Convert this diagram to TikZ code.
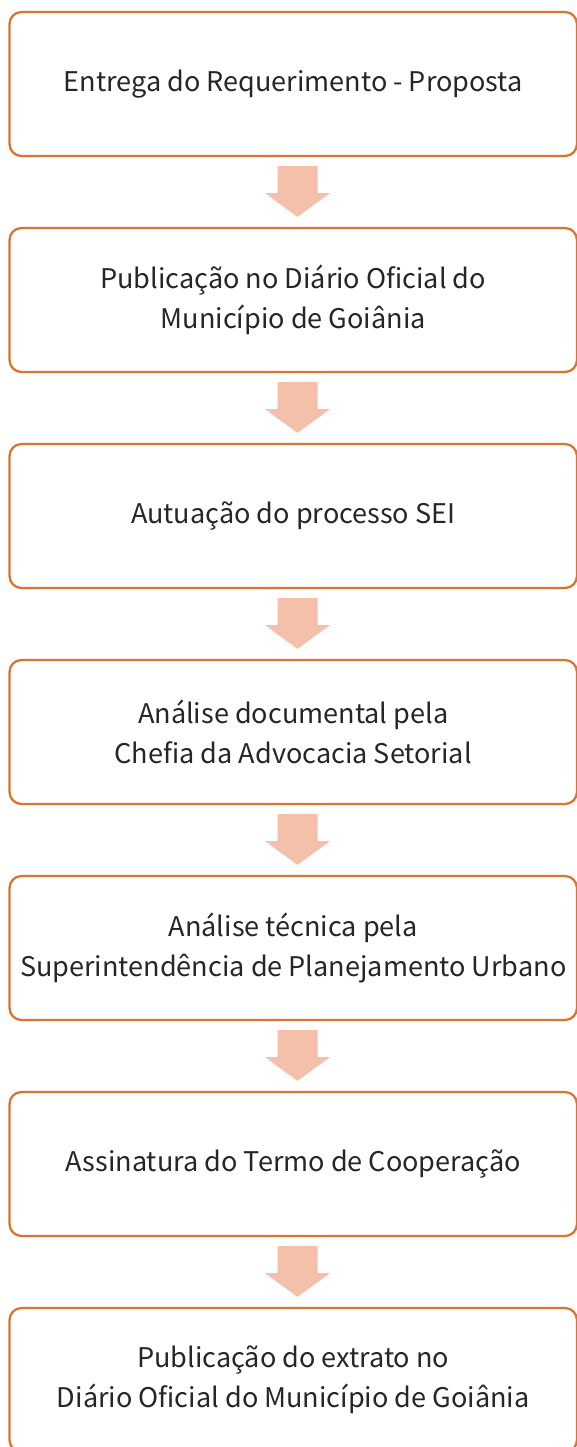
\documentclass[tikz,border=0pt]{standalone}
\usepackage{fontspec}
\setmainfont{Noto Sans CJK JP}
\usetikzlibrary{calc}
\definecolor{boxline}{HTML}{D9742F}
\definecolor{arrowfill}{HTML}{F5C0AA}
\definecolor{txt}{HTML}{262626}
\begin{document}
\begin{tikzpicture}[x=0.75pt,y=-0.75pt,
  stepbox/.style={draw=boxline, line width=1.7pt, rounded corners=9pt,
    minimum width=425.6pt, minimum height=108pt, align=center,
    font=\fontsize{20.3}{30}\selectfont, text=txt, inner sep=0pt},
  blockarrow/.style={fill=arrowfill, draw=none}]
\useasboundingbox (0,0) rectangle (577,1447);
\node[stepbox] (b1) at (293.25,84) {Entrega do Requerimento - Proposta};
\node[stepbox] (b2) at (293.25,300) {Publicação no Diário Oficial do\\Município de Goiânia};
\node[stepbox] (b3) at (293.25,516) {Autuação do processo SEI};
\node[stepbox] (b4) at (293.25,732) {Análise documental pela\\Chefia da Advocacia Setorial};
\node[stepbox] (b5) at (293.25,948) {Análise técnica pela\\Superintendência de Planejamento Urbano};
\node[stepbox] (b6) at (293.25,1164) {Assinatura do Termo de Cooperação};
\node[stepbox] (b7) at (293.25,1380) {Publicação do extrato no\\Diário Oficial do Município de Goiânia};
\foreach \a/\b in {b1/b2,b2/b3,b3/b4,b4/b5,b5/b6,b6/b7}{
  \fill[blockarrow]
    ($(\a.south)+(-15.75,9)$) -- ($(\a.south)+(24.25,9)$) -- ($(\a.south)+(24.25,36)$)
    -- ($(\a.south)+(36.75,36)$) -- ($(\b.north)+(4.25,-10)$)
    -- ($(\a.south)+(-28.25,36)$) -- ($(\a.south)+(-15.75,36)$) -- cycle;
}
\end{tikzpicture}
\end{document}
